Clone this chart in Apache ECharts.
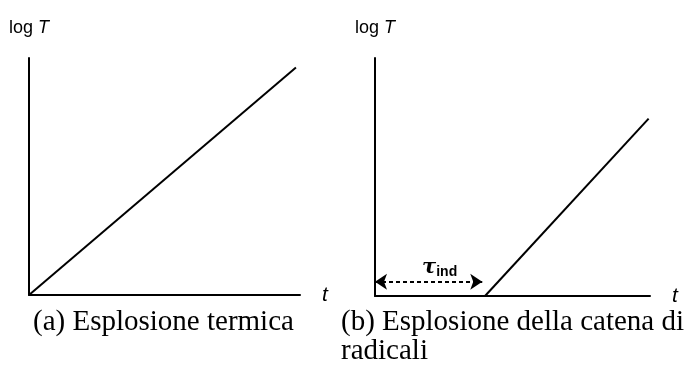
<!DOCTYPE html>
<html>
<head>
<meta charset="utf-8">
<script src="https://cdn.jsdelivr.net/npm/echarts@6/dist/echarts.min.js"></script>
<style>
  html, body { margin: 0; padding: 0; background: #fff; }
  #chart { width: 698px; height: 372px; }
</style>
</head>
<body>
<div id="chart"></div>
<script>
// Thermal explosion: log T rises linearly from t = 0
const thermalT = [0, 9.85];
const thermalLogT = [0, 9.6];
// Radical chain explosion: nothing during the induction period, then linear rise
const chainT = [4.0, 9.95];
const chainLogT = [0, 7.45];
// Induction period arrow (from t = 0 to the start of the rise)
const inductionSpan = [0, 3.9];
const inductionLevel = 0.6;
const captions = ['(a) Esplosione termica', '(b) Esplosione della catena di\nradicali'];
const yName = '{n|log }{i|T}';
const xName = 't';

const chart = echarts.init(document.getElementById('chart'));

const axisLine = { show: true, onZero: false, lineStyle: { color: '#000', width: 2 } };
const nameRich = {
  n: { fontFamily: 'Liberation Sans', fontSize: 18, color: '#000' },
  i: { fontFamily: 'Liberation Sans', fontSize: 18, fontStyle: 'italic', color: '#000' }
};

function xAxis(gridIndex) {
  return {
    type: 'value', gridIndex, min: 0, max: 10,
    axisLine, axisTick: { show: false }, axisLabel: { show: false }, splitLine: { show: false },
    name: xName, nameLocation: 'end', nameGap: 22,
    nameTextStyle: { fontFamily: 'Liberation Sans', fontSize: 21, fontStyle: 'italic', color: '#000' }
  };
}
function yAxis(gridIndex) {
  return {
    type: 'value', gridIndex, min: 0, max: 10,
    axisLine, axisTick: { show: false }, axisLabel: { show: false }, splitLine: { show: false },
    name: yName, nameLocation: 'end', nameGap: 21,
    nameTextStyle: { fontFamily: 'Liberation Sans', fontSize: 18, color: '#000', rich: nameRich }
  };
}

const lineStyle = { color: '#000', width: 2 };
const captionStyle = { fontFamily: 'Liberation Serif', fontSize: 29, fontWeight: 'normal', color: '#000', lineHeight: 29 };

chart.setOption({
  animation: false,
  backgroundColor: '#fff',
  title: [
    { text: captions[0], left: 33, top: 308, padding: 0, textStyle: captionStyle },
    { text: captions[1], left: 341, top: 308, padding: 0, textStyle: captionStyle }
  ],
  grid: [
    { left: 29, top: 58, width: 271, height: 237 },
    { left: 375, top: 58, width: 275, height: 238 }
  ],
  xAxis: [xAxis(0), xAxis(1)],
  yAxis: [yAxis(0), yAxis(1)],
  series: [
    {
      type: 'line', xAxisIndex: 0, yAxisIndex: 0, showSymbol: false, lineStyle,
      data: thermalT.map((t, i) => [t, thermalLogT[i]])
    },
    {
      type: 'line', xAxisIndex: 1, yAxisIndex: 1, showSymbol: false, lineStyle,
      data: chainT.map((t, i) => [t, chainLogT[i]]),
      markLine: {
        silent: true,
        symbol: ['arrow', 'arrow'],
        symbolSize: [12, 12],
        lineStyle: { color: '#000', width: 2, type: [4, 3] },
        label: {
          show: true, position: 'middle', distance: 3,
          formatter: '{tau|τ}{sub|ind}',
          padding: [0, 0, 0, 22],
          rich: {
            tau: { fontFamily: 'DejaVu Serif', fontSize: 21, fontStyle: 'italic', fontWeight: 'bold', color: '#000' },
            sub: { fontFamily: 'Liberation Sans', fontSize: 14, fontWeight: 'bold', color: '#000', padding: [8, 0, 0, 0] }
          }
        },
        data: [[
          { coord: [inductionSpan[0], inductionLevel] },
          { coord: [inductionSpan[1], inductionLevel] }
        ]]
      }
    }
  ]
});
</script>
</body>
</html>
